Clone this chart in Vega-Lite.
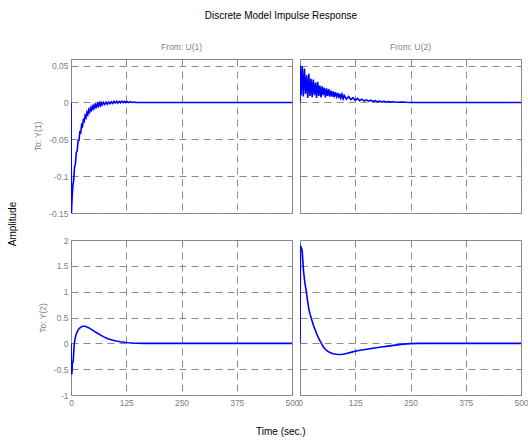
{
  "$schema": "https://vega.github.io/schema/vega-lite/v6.json",
  "background": "white",
  "padding": {"left": 8, "top": 11, "right": 5, "bottom": 5},
  "data": {
    "values": [
      {"from": "U(1)", "to": "Y(1)", "t": 0, "amp": 0},
      {"from": "U(1)", "to": "Y(1)", "t": 1, "amp": -0.15},
      {"from": "U(1)", "to": "Y(1)", "t": 2, "amp": -0.135},
      {"from": "U(1)", "to": "Y(1)", "t": 4, "amp": -0.114},
      {"from": "U(1)", "to": "Y(1)", "t": 6, "amp": -0.106},
      {"from": "U(1)", "to": "Y(1)", "t": 8, "amp": -0.088},
      {"from": "U(1)", "to": "Y(1)", "t": 10, "amp": -0.083},
      {"from": "U(1)", "to": "Y(1)", "t": 12, "amp": -0.068},
      {"from": "U(1)", "to": "Y(1)", "t": 14, "amp": -0.0655},
      {"from": "U(1)", "to": "Y(1)", "t": 16, "amp": -0.052},
      {"from": "U(1)", "to": "Y(1)", "t": 18, "amp": -0.0517},
      {"from": "U(1)", "to": "Y(1)", "t": 20, "amp": -0.04},
      {"from": "U(1)", "to": "Y(1)", "t": 22, "amp": -0.0409},
      {"from": "U(1)", "to": "Y(1)", "t": 24, "amp": -0.0305},
      {"from": "U(1)", "to": "Y(1)", "t": 26, "amp": -0.0325},
      {"from": "U(1)", "to": "Y(1)", "t": 28, "amp": -0.0236},
      {"from": "U(1)", "to": "Y(1)", "t": 30, "amp": -0.0255},
      {"from": "U(1)", "to": "Y(1)", "t": 32, "amp": -0.0178},
      {"from": "U(1)", "to": "Y(1)", "t": 34, "amp": -0.0204},
      {"from": "U(1)", "to": "Y(1)", "t": 36, "amp": -0.0133},
      {"from": "U(1)", "to": "Y(1)", "t": 38, "amp": -0.0165},
      {"from": "U(1)", "to": "Y(1)", "t": 40, "amp": -0.0101},
      {"from": "U(1)", "to": "Y(1)", "t": 42, "amp": -0.0131},
      {"from": "U(1)", "to": "Y(1)", "t": 44, "amp": -0.0076},
      {"from": "U(1)", "to": "Y(1)", "t": 46, "amp": -0.0105},
      {"from": "U(1)", "to": "Y(1)", "t": 48, "amp": -0.0055},
      {"from": "U(1)", "to": "Y(1)", "t": 50, "amp": -0.0086},
      {"from": "U(1)", "to": "Y(1)", "t": 52, "amp": -0.0038},
      {"from": "U(1)", "to": "Y(1)", "t": 54, "amp": -0.0071},
      {"from": "U(1)", "to": "Y(1)", "t": 56, "amp": -0.0027},
      {"from": "U(1)", "to": "Y(1)", "t": 58, "amp": -0.0058},
      {"from": "U(1)", "to": "Y(1)", "t": 60, "amp": -0.0017},
      {"from": "U(1)", "to": "Y(1)", "t": 62, "amp": -0.0049},
      {"from": "U(1)", "to": "Y(1)", "t": 64, "amp": -0.0009},
      {"from": "U(1)", "to": "Y(1)", "t": 66, "amp": -0.0042},
      {"from": "U(1)", "to": "Y(1)", "t": 68, "amp": -0.0003},
      {"from": "U(1)", "to": "Y(1)", "t": 70, "amp": -0.0035},
      {"from": "U(1)", "to": "Y(1)", "t": 73, "amp": 0},
      {"from": "U(1)", "to": "Y(1)", "t": 76, "amp": -0.0028},
      {"from": "U(1)", "to": "Y(1)", "t": 79, "amp": 0.0004},
      {"from": "U(1)", "to": "Y(1)", "t": 82, "amp": -0.0023},
      {"from": "U(1)", "to": "Y(1)", "t": 85, "amp": 0.0005},
      {"from": "U(1)", "to": "Y(1)", "t": 88, "amp": -0.0017},
      {"from": "U(1)", "to": "Y(1)", "t": 91, "amp": 0.001},
      {"from": "U(1)", "to": "Y(1)", "t": 94, "amp": -0.0012},
      {"from": "U(1)", "to": "Y(1)", "t": 97, "amp": 0.0014},
      {"from": "U(1)", "to": "Y(1)", "t": 100, "amp": -0.0008},
      {"from": "U(1)", "to": "Y(1)", "t": 103, "amp": 0.0016},
      {"from": "U(1)", "to": "Y(1)", "t": 106, "amp": -0.0006},
      {"from": "U(1)", "to": "Y(1)", "t": 109, "amp": 0.0015},
      {"from": "U(1)", "to": "Y(1)", "t": 112, "amp": -0.0005},
      {"from": "U(1)", "to": "Y(1)", "t": 115, "amp": 0.0017},
      {"from": "U(1)", "to": "Y(1)", "t": 118, "amp": -0.0003},
      {"from": "U(1)", "to": "Y(1)", "t": 121, "amp": 0.0014},
      {"from": "U(1)", "to": "Y(1)", "t": 124, "amp": -0.0002},
      {"from": "U(1)", "to": "Y(1)", "t": 127, "amp": 0.0012},
      {"from": "U(1)", "to": "Y(1)", "t": 130, "amp": -0.0002},
      {"from": "U(1)", "to": "Y(1)", "t": 134, "amp": 0.001},
      {"from": "U(1)", "to": "Y(1)", "t": 138, "amp": 0},
      {"from": "U(1)", "to": "Y(1)", "t": 142, "amp": 0.0006},
      {"from": "U(1)", "to": "Y(1)", "t": 146, "amp": 0},
      {"from": "U(1)", "to": "Y(1)", "t": 500, "amp": 0},

      {"from": "U(2)", "to": "Y(1)", "t": 0, "amp": 0},
      {"from": "U(2)", "to": "Y(1)", "t": 0.5, "amp": 0.05},
      {"from": "U(2)", "to": "Y(1)", "t": 2.5, "amp": 0.01},
      {"from": "U(2)", "to": "Y(1)", "t": 5, "amp": 0.049},
      {"from": "U(2)", "to": "Y(1)", "t": 7.5, "amp": 0.008},
      {"from": "U(2)", "to": "Y(1)", "t": 10, "amp": 0.046},
      {"from": "U(2)", "to": "Y(1)", "t": 12.5, "amp": 0.012},
      {"from": "U(2)", "to": "Y(1)", "t": 15, "amp": 0.037},
      {"from": "U(2)", "to": "Y(1)", "t": 17.5, "amp": 0.006},
      {"from": "U(2)", "to": "Y(1)", "t": 20, "amp": 0.039},
      {"from": "U(2)", "to": "Y(1)", "t": 22.5, "amp": 0.009},
      {"from": "U(2)", "to": "Y(1)", "t": 25, "amp": 0.032},
      {"from": "U(2)", "to": "Y(1)", "t": 27.5, "amp": 0.007},
      {"from": "U(2)", "to": "Y(1)", "t": 30, "amp": 0.031},
      {"from": "U(2)", "to": "Y(1)", "t": 32.5, "amp": 0.01},
      {"from": "U(2)", "to": "Y(1)", "t": 35, "amp": 0.027},
      {"from": "U(2)", "to": "Y(1)", "t": 37.5, "amp": 0.006},
      {"from": "U(2)", "to": "Y(1)", "t": 40, "amp": 0.028},
      {"from": "U(2)", "to": "Y(1)", "t": 42.5, "amp": 0.009},
      {"from": "U(2)", "to": "Y(1)", "t": 45, "amp": 0.023},
      {"from": "U(2)", "to": "Y(1)", "t": 47.5, "amp": 0.007},
      {"from": "U(2)", "to": "Y(1)", "t": 50, "amp": 0.022},
      {"from": "U(2)", "to": "Y(1)", "t": 52.5, "amp": 0.01},
      {"from": "U(2)", "to": "Y(1)", "t": 55, "amp": 0.02},
      {"from": "U(2)", "to": "Y(1)", "t": 57.5, "amp": 0.007},
      {"from": "U(2)", "to": "Y(1)", "t": 60, "amp": 0.019},
      {"from": "U(2)", "to": "Y(1)", "t": 62.5, "amp": 0.009},
      {"from": "U(2)", "to": "Y(1)", "t": 65, "amp": 0.018},
      {"from": "U(2)", "to": "Y(1)", "t": 67.5, "amp": 0.008},
      {"from": "U(2)", "to": "Y(1)", "t": 70, "amp": 0.016},
      {"from": "U(2)", "to": "Y(1)", "t": 72.5, "amp": 0.008},
      {"from": "U(2)", "to": "Y(1)", "t": 75, "amp": 0.015},
      {"from": "U(2)", "to": "Y(1)", "t": 77.5, "amp": 0.007},
      {"from": "U(2)", "to": "Y(1)", "t": 80, "amp": 0.014},
      {"from": "U(2)", "to": "Y(1)", "t": 82.5, "amp": 0.008},
      {"from": "U(2)", "to": "Y(1)", "t": 85, "amp": 0.013},
      {"from": "U(2)", "to": "Y(1)", "t": 87.5, "amp": 0.006},
      {"from": "U(2)", "to": "Y(1)", "t": 90, "amp": 0.012},
      {"from": "U(2)", "to": "Y(1)", "t": 92.5, "amp": 0.006},
      {"from": "U(2)", "to": "Y(1)", "t": 95, "amp": 0.011},
      {"from": "U(2)", "to": "Y(1)", "t": 97.5, "amp": 0.005},
      {"from": "U(2)", "to": "Y(1)", "t": 100, "amp": 0.0095},
      {"from": "U(2)", "to": "Y(1)", "t": 105, "amp": 0.0045},
      {"from": "U(2)", "to": "Y(1)", "t": 110, "amp": 0.008},
      {"from": "U(2)", "to": "Y(1)", "t": 115, "amp": 0.004},
      {"from": "U(2)", "to": "Y(1)", "t": 120, "amp": 0.0065},
      {"from": "U(2)", "to": "Y(1)", "t": 125, "amp": 0.003},
      {"from": "U(2)", "to": "Y(1)", "t": 130, "amp": 0.0055},
      {"from": "U(2)", "to": "Y(1)", "t": 135, "amp": 0.0025},
      {"from": "U(2)", "to": "Y(1)", "t": 140, "amp": 0.0045},
      {"from": "U(2)", "to": "Y(1)", "t": 145, "amp": 0.002},
      {"from": "U(2)", "to": "Y(1)", "t": 150, "amp": 0.0035},
      {"from": "U(2)", "to": "Y(1)", "t": 155, "amp": 0.0017},
      {"from": "U(2)", "to": "Y(1)", "t": 160, "amp": 0.003},
      {"from": "U(2)", "to": "Y(1)", "t": 165, "amp": 0.0012},
      {"from": "U(2)", "to": "Y(1)", "t": 170, "amp": 0.0024},
      {"from": "U(2)", "to": "Y(1)", "t": 175, "amp": 0.001},
      {"from": "U(2)", "to": "Y(1)", "t": 180, "amp": 0.0018},
      {"from": "U(2)", "to": "Y(1)", "t": 185, "amp": 0.0008},
      {"from": "U(2)", "to": "Y(1)", "t": 190, "amp": 0.0015},
      {"from": "U(2)", "to": "Y(1)", "t": 195, "amp": 0.0006},
      {"from": "U(2)", "to": "Y(1)", "t": 200, "amp": 0.0012},
      {"from": "U(2)", "to": "Y(1)", "t": 205, "amp": 0.0005},
      {"from": "U(2)", "to": "Y(1)", "t": 210, "amp": 0.001},
      {"from": "U(2)", "to": "Y(1)", "t": 220, "amp": 0.0003},
      {"from": "U(2)", "to": "Y(1)", "t": 230, "amp": 0.0007},
      {"from": "U(2)", "to": "Y(1)", "t": 240, "amp": 0.0002},
      {"from": "U(2)", "to": "Y(1)", "t": 250, "amp": 0},
      {"from": "U(2)", "to": "Y(1)", "t": 500, "amp": 0},

      {"from": "U(1)", "to": "Y(2)", "t": 0, "amp": 0},
      {"from": "U(1)", "to": "Y(2)", "t": 1, "amp": -0.6},
      {"from": "U(1)", "to": "Y(2)", "t": 2, "amp": -0.58},
      {"from": "U(1)", "to": "Y(2)", "t": 3, "amp": -0.4},
      {"from": "U(1)", "to": "Y(2)", "t": 4, "amp": -0.36},
      {"from": "U(1)", "to": "Y(2)", "t": 5, "amp": -0.35},
      {"from": "U(1)", "to": "Y(2)", "t": 6, "amp": -0.2},
      {"from": "U(1)", "to": "Y(2)", "t": 7, "amp": -0.05},
      {"from": "U(1)", "to": "Y(2)", "t": 8, "amp": 0.03},
      {"from": "U(1)", "to": "Y(2)", "t": 10, "amp": 0.12},
      {"from": "U(1)", "to": "Y(2)", "t": 12, "amp": 0.18},
      {"from": "U(1)", "to": "Y(2)", "t": 14, "amp": 0.22},
      {"from": "U(1)", "to": "Y(2)", "t": 16, "amp": 0.26},
      {"from": "U(1)", "to": "Y(2)", "t": 19, "amp": 0.29},
      {"from": "U(1)", "to": "Y(2)", "t": 22, "amp": 0.31},
      {"from": "U(1)", "to": "Y(2)", "t": 25, "amp": 0.325},
      {"from": "U(1)", "to": "Y(2)", "t": 28, "amp": 0.33},
      {"from": "U(1)", "to": "Y(2)", "t": 31, "amp": 0.33},
      {"from": "U(1)", "to": "Y(2)", "t": 34, "amp": 0.325},
      {"from": "U(1)", "to": "Y(2)", "t": 37, "amp": 0.31},
      {"from": "U(1)", "to": "Y(2)", "t": 40, "amp": 0.3},
      {"from": "U(1)", "to": "Y(2)", "t": 44, "amp": 0.28},
      {"from": "U(1)", "to": "Y(2)", "t": 48, "amp": 0.26},
      {"from": "U(1)", "to": "Y(2)", "t": 53, "amp": 0.23},
      {"from": "U(1)", "to": "Y(2)", "t": 58, "amp": 0.205},
      {"from": "U(1)", "to": "Y(2)", "t": 63, "amp": 0.18},
      {"from": "U(1)", "to": "Y(2)", "t": 68, "amp": 0.155},
      {"from": "U(1)", "to": "Y(2)", "t": 73, "amp": 0.13},
      {"from": "U(1)", "to": "Y(2)", "t": 78, "amp": 0.11},
      {"from": "U(1)", "to": "Y(2)", "t": 85, "amp": 0.085},
      {"from": "U(1)", "to": "Y(2)", "t": 93, "amp": 0.064},
      {"from": "U(1)", "to": "Y(2)", "t": 102, "amp": 0.045},
      {"from": "U(1)", "to": "Y(2)", "t": 112, "amp": 0.03},
      {"from": "U(1)", "to": "Y(2)", "t": 121, "amp": 0.02},
      {"from": "U(1)", "to": "Y(2)", "t": 130, "amp": 0.012},
      {"from": "U(1)", "to": "Y(2)", "t": 140, "amp": 0.006},
      {"from": "U(1)", "to": "Y(2)", "t": 150, "amp": 0.002},
      {"from": "U(1)", "to": "Y(2)", "t": 165, "amp": 0},
      {"from": "U(1)", "to": "Y(2)", "t": 500, "amp": 0},

      {"from": "U(2)", "to": "Y(2)", "t": 0, "amp": 0},
      {"from": "U(2)", "to": "Y(2)", "t": 1, "amp": 1.88},
      {"from": "U(2)", "to": "Y(2)", "t": 3, "amp": 1.85},
      {"from": "U(2)", "to": "Y(2)", "t": 5, "amp": 1.8},
      {"from": "U(2)", "to": "Y(2)", "t": 6, "amp": 1.65},
      {"from": "U(2)", "to": "Y(2)", "t": 8, "amp": 1.4},
      {"from": "U(2)", "to": "Y(2)", "t": 11, "amp": 1.17},
      {"from": "U(2)", "to": "Y(2)", "t": 14, "amp": 1.02},
      {"from": "U(2)", "to": "Y(2)", "t": 17, "amp": 0.83},
      {"from": "U(2)", "to": "Y(2)", "t": 20, "amp": 0.66},
      {"from": "U(2)", "to": "Y(2)", "t": 23, "amp": 0.56},
      {"from": "U(2)", "to": "Y(2)", "t": 26, "amp": 0.47},
      {"from": "U(2)", "to": "Y(2)", "t": 30, "amp": 0.36},
      {"from": "U(2)", "to": "Y(2)", "t": 33, "amp": 0.29},
      {"from": "U(2)", "to": "Y(2)", "t": 37, "amp": 0.2},
      {"from": "U(2)", "to": "Y(2)", "t": 41, "amp": 0.12},
      {"from": "U(2)", "to": "Y(2)", "t": 45, "amp": 0.05},
      {"from": "U(2)", "to": "Y(2)", "t": 49, "amp": -0.01},
      {"from": "U(2)", "to": "Y(2)", "t": 53, "amp": -0.07},
      {"from": "U(2)", "to": "Y(2)", "t": 58, "amp": -0.12},
      {"from": "U(2)", "to": "Y(2)", "t": 63, "amp": -0.155},
      {"from": "U(2)", "to": "Y(2)", "t": 68, "amp": -0.18},
      {"from": "U(2)", "to": "Y(2)", "t": 75, "amp": -0.2},
      {"from": "U(2)", "to": "Y(2)", "t": 82, "amp": -0.21},
      {"from": "U(2)", "to": "Y(2)", "t": 90, "amp": -0.215},
      {"from": "U(2)", "to": "Y(2)", "t": 97, "amp": -0.21},
      {"from": "U(2)", "to": "Y(2)", "t": 105, "amp": -0.195},
      {"from": "U(2)", "to": "Y(2)", "t": 115, "amp": -0.175},
      {"from": "U(2)", "to": "Y(2)", "t": 127, "amp": -0.15},
      {"from": "U(2)", "to": "Y(2)", "t": 140, "amp": -0.13},
      {"from": "U(2)", "to": "Y(2)", "t": 155, "amp": -0.11},
      {"from": "U(2)", "to": "Y(2)", "t": 165, "amp": -0.095},
      {"from": "U(2)", "to": "Y(2)", "t": 180, "amp": -0.075},
      {"from": "U(2)", "to": "Y(2)", "t": 203, "amp": -0.05},
      {"from": "U(2)", "to": "Y(2)", "t": 220, "amp": -0.03},
      {"from": "U(2)", "to": "Y(2)", "t": 233, "amp": -0.015},
      {"from": "U(2)", "to": "Y(2)", "t": 250, "amp": -0.005},
      {"from": "U(2)", "to": "Y(2)", "t": 270, "amp": 0},
      {"from": "U(2)", "to": "Y(2)", "t": 500, "amp": 0}
    ]
  },
  "title": {"text": "Amplitude", "orient": "left", "anchor": "middle", "frame": "bounds", "offset": 15},
  "vconcat": [
    {
      "title": {"text": "Discrete Model Impulse Response", "anchor": "middle", "frame": "bounds", "offset": 21},
      "vconcat": [
        {
          "title": {"text": "Time (sec.)", "orient": "bottom", "anchor": "middle", "frame": "bounds", "offset": 20},
          "spacing": 17,
          "vconcat": [
            {
              "bounds": "flush",
              "spacing": 8,
              "hconcat": [
                {
                  "width": 221, "height": 154,
                  "title": {"text": "From: U(1)", "fontSize": 8.5, "color": "#808080", "offset": 8, "anchor": "middle"},
                  "transform": [{"filter": "datum.from === 'U(1)' && datum.to === 'Y(1)'"}],
                  "mark": {"type": "line", "color": "#0000ff", "strokeWidth": 1.6, "clip": true},
                  "encoding": {
                    "x": {"field": "t", "type": "quantitative", "scale": {"domain": [0, 500], "nice": false},
                          "axis": {"values": [0, 125, 250, 375, 500], "labels": false, "title": null}},
                    "y": {"field": "amp", "type": "quantitative", "scale": {"domain": [-0.15, 0.059], "nice": false, "zero": false},
                          "axis": {"values": [-0.15, -0.1, -0.05, 0, 0.05], "title": "To: Y(1)", "labelExpr": "'' + datum.value"}}
                  }
                },
                {
                  "width": 221, "height": 154,
                  "title": {"text": "From: U(2)", "fontSize": 8.5, "color": "#808080", "offset": 8, "anchor": "middle"},
                  "transform": [{"filter": "datum.from === 'U(2)' && datum.to === 'Y(1)'"}],
                  "mark": {"type": "line", "color": "#0000ff", "strokeWidth": 1.6, "clip": true},
                  "encoding": {
                    "x": {"field": "t", "type": "quantitative", "scale": {"domain": [0, 500], "nice": false},
                          "axis": {"values": [0, 125, 250, 375, 500], "labels": false, "title": null}},
                    "y": {"field": "amp", "type": "quantitative", "scale": {"domain": [-0.15, 0.059], "nice": false, "zero": false},
                          "axis": {"values": [-0.15, -0.1, -0.05, 0, 0.05], "labels": false, "title": null}}
                  }
                }
              ]
            },
            {
              "bounds": "flush",
              "spacing": 8,
              "hconcat": [
                {
                  "width": 221, "height": 155,
                  "transform": [{"filter": "datum.from === 'U(1)' && datum.to === 'Y(2)'"}],
                  "mark": {"type": "line", "color": "#0000ff", "strokeWidth": 1.6, "clip": true},
                  "encoding": {
                    "x": {"field": "t", "type": "quantitative", "scale": {"domain": [0, 500], "nice": false},
                          "axis": {"values": [0, 125, 250, 375, 500], "title": null, "labelFlush": false}},
                    "y": {"field": "amp", "type": "quantitative", "scale": {"domain": [-1, 2], "nice": false, "zero": false},
                          "axis": {"values": [-1, -0.5, 0, 0.5, 1, 1.5, 2], "title": "To: Y(2)", "labelExpr": "'' + datum.value"}}
                  }
                },
                {
                  "width": 221, "height": 155,
                  "transform": [{"filter": "datum.from === 'U(2)' && datum.to === 'Y(2)'"}],
                  "mark": {"type": "line", "color": "#0000ff", "strokeWidth": 1.6, "clip": true},
                  "encoding": {
                    "x": {"field": "t", "type": "quantitative", "scale": {"domain": [0, 500], "nice": false},
                          "axis": {"values": [0, 125, 250, 375, 500], "title": null, "labelFlush": false}},
                    "y": {"field": "amp", "type": "quantitative", "scale": {"domain": [-1, 2], "nice": false, "zero": false},
                          "axis": {"values": [-1, -0.5, 0, 0.5, 1, 1.5, 2], "labels": false, "title": null}}
                  }
                }
              ]
            }
          ]
        }
      ]
    }
  ],
  "config": {
    "font": "Liberation Sans",
    "view": {"stroke": "#808080", "strokeWidth": 1},
    "axis": {
      "grid": true, "gridColor": "#8c8c8c", "gridDash": [7, 5], "gridWidth": 1,
      "domain": false, "ticks": false,
      "labelFont": "Liberation Sans", "labelFontSize": 8.5, "labelColor": "#808080", "labelPadding": 3,
      "labelOverlap": false,
      "titleFont": "Liberation Sans", "titleFontSize": 8.5, "titleFontWeight": "normal", "titleColor": "#808080", "titlePadding": 6
    },
    "title": {"font": "Liberation Sans", "fontSize": 10, "fontWeight": "normal", "color": "#000000"}
  }
}
